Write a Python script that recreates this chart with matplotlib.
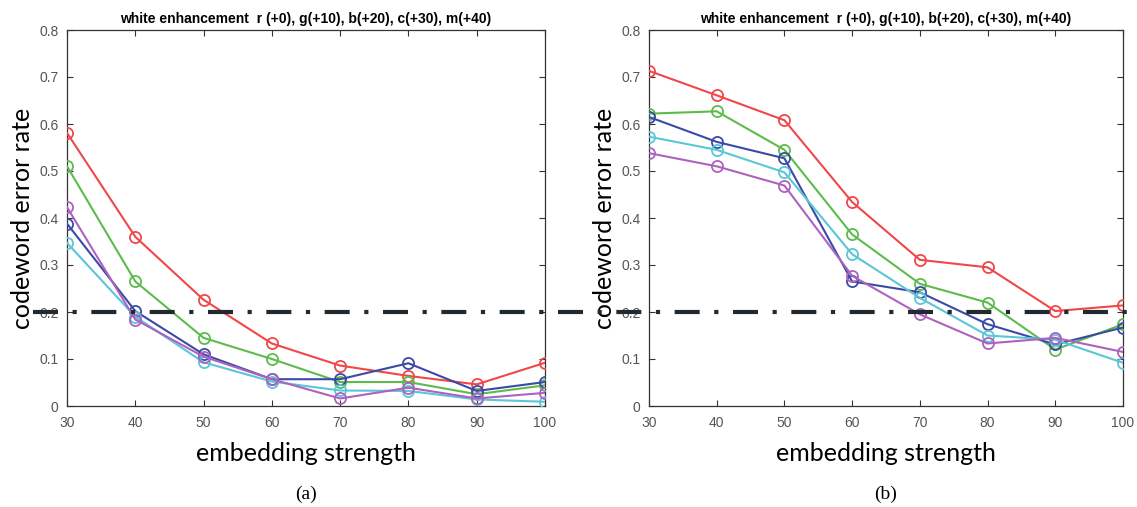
import matplotlib
matplotlib.use("Agg")
import matplotlib.pyplot as plt

# ── data ─────────────────────────────────────────────────────────────────────

strength = [30, 40, 50, 60, 70, 80, 90, 100]

# panel (a)
a_r = [0.581, 0.360, 0.226, 0.133, 0.086, 0.064, 0.046, 0.092]
a_g = [0.510, 0.265, 0.145, 0.100, 0.051, 0.051, 0.025, 0.044]
a_b = [0.388, 0.202, 0.110, 0.057, 0.057, 0.091, 0.032, 0.051]
a_c = [0.347, 0.190, 0.093, 0.052, 0.033, 0.032, 0.014, 0.009]
a_m = [0.423, 0.184, 0.105, 0.057, 0.016, 0.039, 0.016, 0.028]

# panel (b)
b_r = [0.713, 0.661, 0.608, 0.434, 0.311, 0.295, 0.202, 0.214]
b_g = [0.622, 0.627, 0.545, 0.365, 0.260, 0.220, 0.120, 0.174]
b_b = [0.615, 0.562, 0.527, 0.265, 0.242, 0.174, 0.131, 0.167]
b_c = [0.573, 0.545, 0.497, 0.323, 0.230, 0.150, 0.141, 0.092]
b_m = [0.538, 0.510, 0.469, 0.277, 0.195, 0.133, 0.145, 0.115]

threshold = 0.2
title = "white enhancement  r (+0), g(+10), b(+20), c(+30), m(+40)"
colors = ["#f0474a", "#5dbb4d", "#3b4aa6", "#5bc6d6", "#ad62bf"]

# ── plotting ─────────────────────────────────────────────────────────────────

fig = plt.figure(figsize=(11.37, 5.07), dpi=100)
ax_a = fig.add_axes([67 / 1137, 1 - 406 / 507, 478 / 1137, 376 / 507])
ax_b = fig.add_axes([649 / 1137, 1 - 406 / 507, 474 / 1137, 376 / 507])


def draw_panel(ax, series, caption):
    for ys, col in zip(series, colors):
        ax.plot(strength, ys, color=col, lw=1.5, marker="o", markersize=8,
                markerfacecolor="none", markeredgewidth=1.3, zorder=3)
    ax.set_xlim(30, 100)
    ax.set_ylim(0, 0.8)
    ax.set_xticks(strength)
    ax.set_yticks([0, 0.1, 0.2, 0.3, 0.4, 0.5, 0.6, 0.7, 0.8])
    ax.set_yticklabels(["0", "0.1", "0.2", "0.3", "0.4", "0.5", "0.6", "0.7", "0.8"])
    ax.tick_params(direction="in", top=True, right=True, length=4, width=0.8,
                   labelsize=10, labelcolor="#555555", color="#333333")
    ax.tick_params(axis="x", pad=7)
    ax.tick_params(axis="y", pad=6)
    for sp in ax.spines.values():
        sp.set_color("#333333")
        sp.set_linewidth(0.9)
    for lab in ax.get_xticklabels() + ax.get_yticklabels():
        lab.set_family("Liberation Sans")
    ax.set_title(title, fontsize=10, fontweight="bold", family="Liberation Sans",
                 pad=5)
    ax.set_ylabel("codeword error rate", fontsize=18, family="Lato", labelpad=4)
    ax.set_xlabel("embedding strength", fontsize=18, family="Lato", labelpad=9)
    ax.text(0.5, -0.235, caption, transform=ax.transAxes, ha="center",
            va="center", fontsize=14, family="Liberation Serif")


draw_panel(ax_a, [a_r, a_g, a_b, a_c, a_m], "(a)")
draw_panel(ax_b, [b_r, b_g, b_b, b_c, b_m], "(b)")

# the threshold runs across both panels, so keep panel (a) on top
ax_a.set_zorder(2)
ax_a.patch.set_alpha(0)
ax_a.axhline(threshold, xmin=-0.071, xmax=2.22, clip_on=False, color="#222a30",
             lw=3, ls=(0, (6, 3.5, 1, 3.5)), zorder=5)

fig.savefig("out.png", dpi=100)
